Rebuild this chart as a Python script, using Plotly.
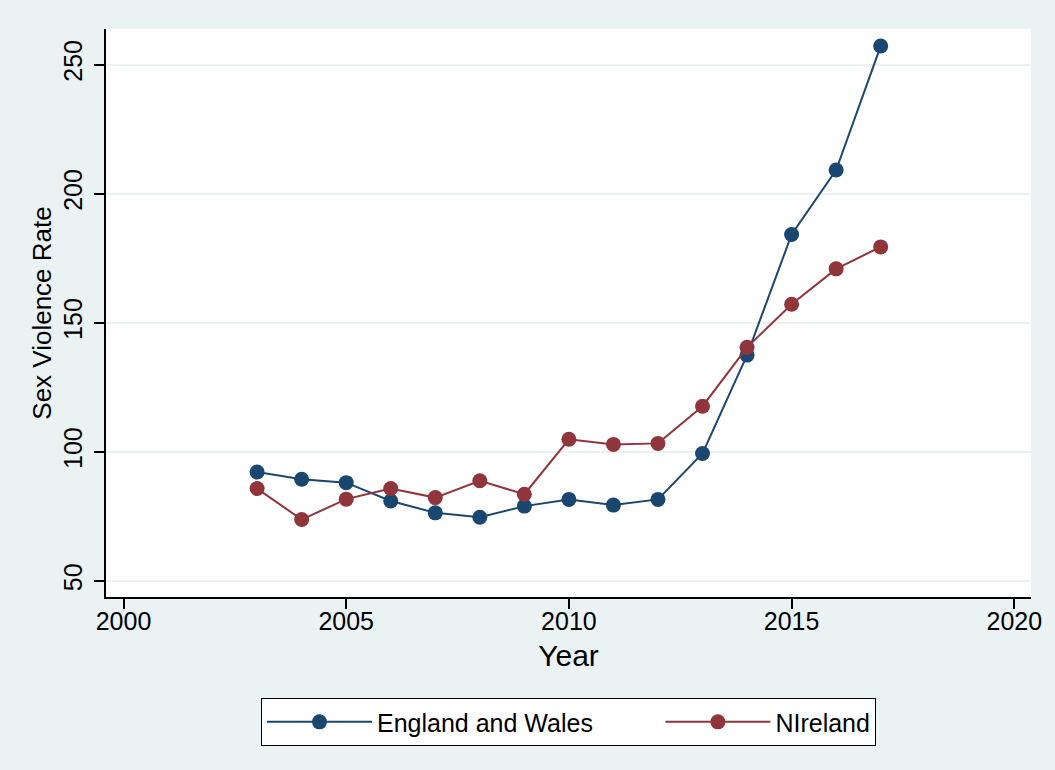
import plotly.graph_objects as go

# Sexual violence rates by year
years = [2003, 2004, 2005, 2006, 2007, 2008, 2009, 2010, 2011, 2012, 2013, 2014, 2015, 2016, 2017]
england_wales = [92.2, 89.4, 88.1, 81.0, 76.4, 74.7, 79.0, 81.6, 79.4, 81.6, 99.4, 137.5, 184.2, 209.2, 257.2]
n_ireland = [85.8, 73.8, 81.7, 85.8, 82.3, 88.8, 83.6, 104.9, 102.9, 103.3, 117.7, 140.5, 157.2, 170.9, 179.4]

x_ticks = [2000, 2005, 2010, 2015, 2020]
y_ticks = [50, 100, 150, 200, 250]

BLUE = "#1a476f"
RED = "#90353b"
BG = "#eaf2f3"
FONT = "Liberation Sans, Arial, Helvetica, sans-serif"

# legend key labels; non-breaking spaces widen the first key's slot
series = [
    ("England and Wales" + "\u00a0" * 9, england_wales, BLUE),
    ("NIreland", n_ireland, RED),
]

fig = go.Figure()
for name, vals, color in series:
    fig.add_trace(go.Scatter(
        x=years, y=vals, name=name, mode="lines+markers",
        line=dict(color=color, width=2),
        marker=dict(color=color, size=15),
    ))

fig.update_layout(
    width=1055, height=770,
    margin=dict(l=106, r=24, t=29, b=173),
    paper_bgcolor=BG, plot_bgcolor="white",
    font=dict(family=FONT, size=25, color="black"),
    legend=dict(
        orientation="h", x=0.5, xanchor="center", y=-0.178, yanchor="top",
        bgcolor="white", bordercolor="black", borderwidth=1,
        font=dict(size=25), itemwidth=105,
    ),
)
fig.update_xaxes(
    range=[1999.607, 2020.375], tickvals=x_ticks,
    showgrid=False, zeroline=False,
    showline=True, linecolor="black", linewidth=1.5,
    ticks="outside", ticklen=10, tickwidth=1.5, tickcolor="black",
    ticklabelstandoff=-9,
    title=dict(text="Year", standoff=11),
)
fig.update_yaxes(
    range=[43.8, 263.8], tickvals=y_ticks, tickangle=-90,
    showgrid=True, gridcolor=BG, gridwidth=1.5, zeroline=False,
    showline=True, linecolor="black", linewidth=1.5,
    ticks="outside", ticklen=10, tickwidth=1.5, tickcolor="black",
    ticklabelstandoff=2,
    title=dict(text="Sex Violence Rate", standoff=0, font=dict(size=26)),
)

fig.write_html("out.html")
